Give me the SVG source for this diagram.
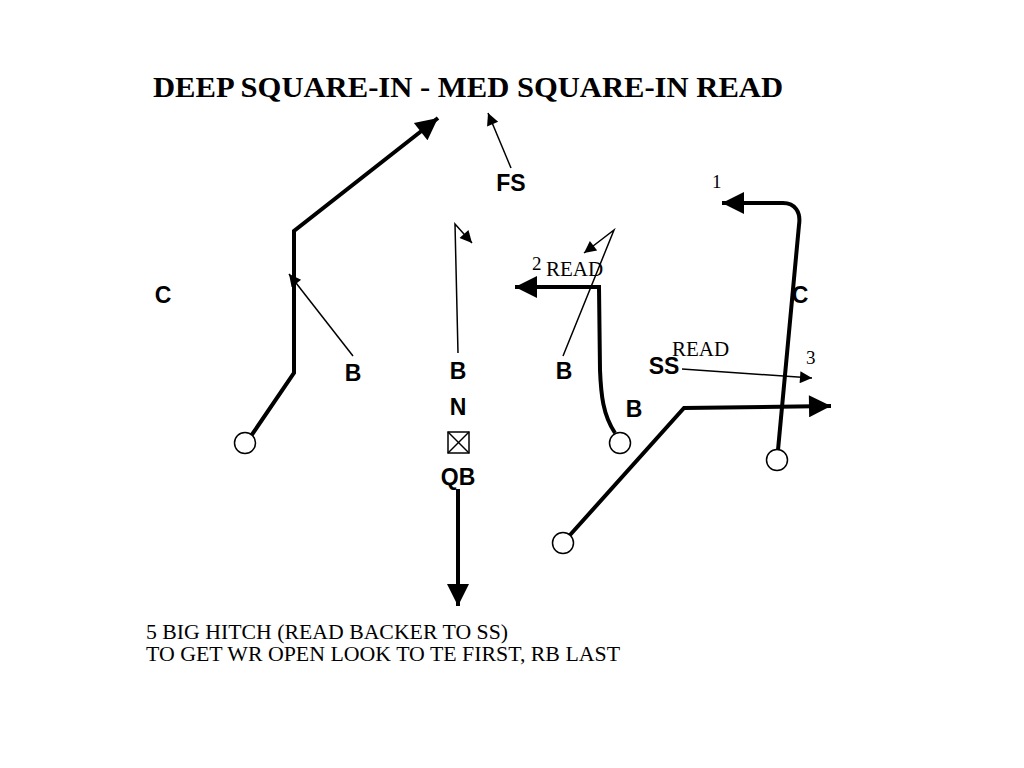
<svg xmlns="http://www.w3.org/2000/svg" width="1024" height="768" viewBox="0 0 1024 768">
<style>
.title{font-family:"Liberation Serif",serif;font-weight:bold;font-size:29px;fill:#000}
.lbl{font-family:"Liberation Sans",Arial,sans-serif;font-weight:bold;font-size:23px;fill:#000;text-anchor:middle}
.ser{font-family:"Liberation Serif",serif;font-size:21px;fill:#000}
.num{font-family:"Liberation Serif",serif;font-size:19px;fill:#000}
.note{font-family:"Liberation Serif",serif;font-size:21px;fill:#000}
.thick{stroke:#000;stroke-width:4;fill:none;stroke-linejoin:miter}
.thin{stroke:#000;stroke-width:1.5;fill:none}
.player{fill:#fff;stroke:#000;stroke-width:1.5}
</style>
<defs>
<marker id="big" viewBox="0 0 10 10" refX="10" refY="5" markerWidth="6.5" markerHeight="5.5" markerUnits="strokeWidth" orient="auto"><path d="M0,0 L10,5 L0,10 z" fill="#000"/></marker>
<marker id="small" viewBox="0 0 10 10" refX="10" refY="5" markerWidth="11" markerHeight="8" markerUnits="strokeWidth" orient="auto"><path d="M0,0 L10,5 L0,10 z" fill="#000"/></marker>
</defs>
<rect width="1024" height="768" fill="#fff"/>
<text class="title" x="153" y="97" textLength="630" lengthAdjust="spacingAndGlyphs">DEEP SQUARE-IN - MED SQUARE-IN READ</text>

<g id="connectors">
<polyline class="thick" points="251,436 294,373 294,231 438,118" marker-end="url(#big)"/>
<path class="thick" d="M615,433 C603,415 601,395 600,370 L599,287 L515,287" marker-end="url(#big)"/>
<polyline class="thick" points="570,535 684,408 831,406" marker-end="url(#big)"/>
<path class="thick" d="M778,450 L799,225 C801,212 795,203 783,203 L722,203" marker-end="url(#big)"/>
<line class="thick" x1="458" y1="489" x2="458" y2="606" marker-end="url(#big)"/>
<line class="thin" x1="353" y1="356" x2="289" y2="274" marker-end="url(#small)"/>
<line class="thin" x1="511" y1="168" x2="488" y2="113" marker-end="url(#small)"/>
<polyline class="thin" points="458,353 455,224 472,243" marker-end="url(#small)"/>
<polyline class="thin" points="563,356 614,230 584,253" marker-end="url(#small)"/>
<line class="thin" x1="682" y1="369" x2="812" y2="378" marker-end="url(#small)"/>
</g>

<g id="wr-left"><circle class="player" cx="245" cy="443" r="10.5"/></g>
<g id="te"><circle class="player" cx="620" cy="443" r="10.5"/></g>
<g id="rb"><circle class="player" cx="563" cy="543" r="10.5"/></g>
<g id="wr-right"><circle class="player" cx="777" cy="460" r="10.5"/></g>
<g id="center">
<rect x="448" y="432" width="21" height="21" fill="#fff" stroke="#000" stroke-width="1.5"/>
<line x1="448" y1="432" x2="469" y2="453" stroke="#000" stroke-width="1.5"/>
<line x1="469" y1="432" x2="448" y2="453" stroke="#000" stroke-width="1.5"/>
</g>

<g id="labels">
<text class="lbl" x="511" y="191">FS</text>
<text class="lbl" x="163" y="303">C</text>
<text class="lbl" x="800" y="303">C</text>
<text class="lbl" x="353" y="381">B</text>
<text class="lbl" x="458" y="379">B</text>
<text class="lbl" x="564" y="379">B</text>
<text class="lbl" x="634" y="417">B</text>
<text class="lbl" x="664" y="374">SS</text>
<text class="lbl" x="458" y="415">N</text>
<text class="lbl" x="458" y="485">QB</text>
<text class="num" x="532" y="270">2</text>
<text class="ser" x="546" y="276">READ</text>
<text class="ser" x="672" y="356">READ</text>
<text class="num" x="712" y="188">1</text>
<text class="num" x="806" y="364">3</text>
<text class="note" x="146" y="639" textLength="362" lengthAdjust="spacingAndGlyphs">5 BIG HITCH (READ BACKER TO SS)</text>
<text class="note" x="146" y="661" textLength="474" lengthAdjust="spacingAndGlyphs">TO GET WR OPEN LOOK TO TE FIRST, RB LAST</text>
</g>
</svg>
